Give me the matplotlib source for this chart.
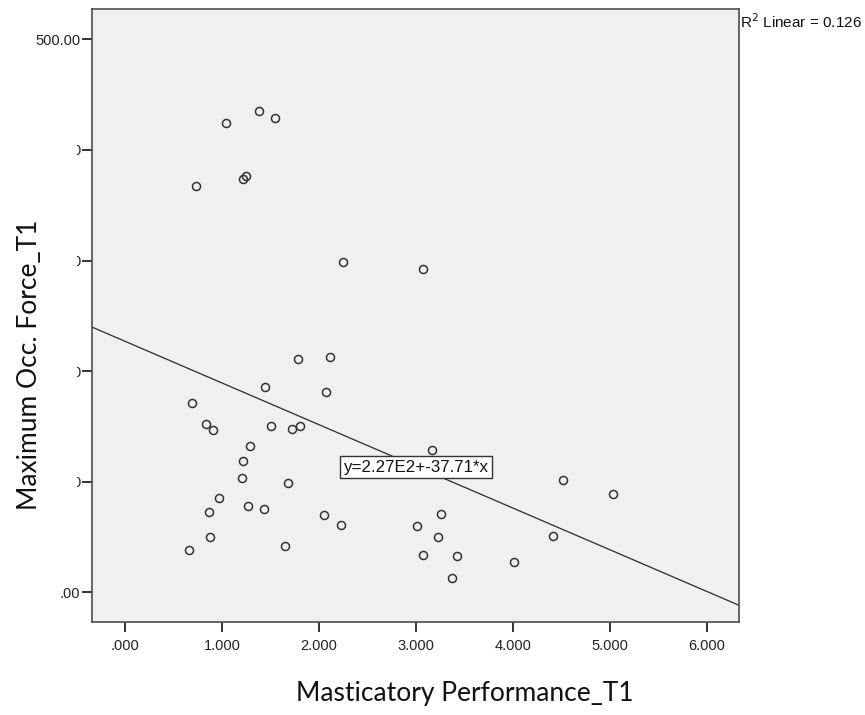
import numpy as np
import matplotlib
matplotlib.use("Agg")
import matplotlib.pyplot as plt
from matplotlib.transforms import Bbox, TransformedBbox

# ---- data ----
mastic_perf = [1.04, 1.38, 1.55, 0.73, 1.22, 1.25,
               2.25, 3.07,
               1.78, 2.11, 1.44, 2.07, 0.69, 0.84, 0.91, 1.51, 1.72, 1.80,
               1.29, 1.22, 1.21, 1.68, 0.97, 0.87, 1.27, 1.43, 2.05, 2.23,
               0.88, 0.66, 1.65,
               3.16, 4.52, 5.03, 3.26, 3.01, 3.23, 4.41, 3.07, 3.42, 4.01, 3.37]
max_force = [424, 435, 429, 367, 374, 376,
             299, 292,
             211, 213, 186, 181, 171, 152, 147, 150, 148, 150,
             132, 119, 103, 99, 85, 73, 78, 75, 70, 61,
             50, 38, 42,
             129, 102, 89, 71, 60, 50, 51, 34, 33, 27, 13]
intercept = 227.0
slope = -37.71
r2_text = "R$^2$ Linear = 0.126"
eq_text = "y=2.27E2+-37.71*x"
x_ticks = [0, 1, 2, 3, 4, 5, 6]
x_ticklabels = [".000", "1.000", "2.000", "3.000", "4.000", "5.000", "6.000"]
y_ticks = [0, 100, 200, 300, 400, 500]
# the middle labels are cut off in the reference: only a sliver of "0" shows
y_ticklabels = [".00", "0", "0", "0", "0", "500.00"]
x_label = "Masticatory Performance_T1"
y_label = "Maximum Occ. Force_T1"

W, H = 865, 715
fig = plt.figure(figsize=(W / 100, H / 100), dpi=100)
fig.patch.set_facecolor("white")
L, R, T, B = 92.3, 739.3, 8.7, 622.3
ax = fig.add_axes([L / W, 1 - B / H, (R - L) / W, (B - T) / H])
ax.set_facecolor("#F0F0F0")

xmin, xmax = -0.337, 6.333
ymin, ymax = -27.1, 527.7
ax.set_xlim(xmin, xmax)
ax.set_ylim(ymin, ymax)

for s in ax.spines.values():
    s.set_color("#4d4d4d")
    s.set_linewidth(1.2)

ax.plot(mastic_perf, max_force, linestyle="none", marker="o", markersize=5.8,
        markerfacecolor="none", markeredgecolor="#333333", markeredgewidth=1.1,
        zorder=3)

xl = np.array([xmin, xmax])
ax.plot(xl, intercept + slope * xl, color="#333333", linewidth=0.95, zorder=2)

tickfont = dict(family="Liberation Sans", size=10.5, color="#222222")
ax.set_xticks(x_ticks)
ax.set_xticklabels(x_ticklabels, **tickfont)
ax.set_yticks(y_ticks)
ax.set_yticklabels(y_ticklabels, **tickfont)
ax.tick_params(axis="both", direction="out", length=7.2, width=1.4,
               color="#333333", pad=1.5)
ax.tick_params(axis="x", pad=5)

clip = TransformedBbox(Bbox.from_extents(0.768, 0, 0.93, H / 100), fig.dpi_scale_trans)
for lab in ax.get_yticklabels()[1:5]:
    lab.set_clip_on(True)
    lab.set_clip_box(clip)

# equation box
ax.text(3.0, 113.3, eq_text, ha="center", va="center",
        family="Liberation Sans", size=12.2, color="#111111", zorder=4,
        bbox=dict(boxstyle="square,pad=0.2", facecolor="white",
                  edgecolor="#333333", linewidth=1.0))

fig.text(740 / W, 1 - 22 / H, r2_text, ha="left", va="center",
         family="Liberation Sans", size=11, color="#111111")

fig.text(634 / W, 1 - 694 / H, x_label, ha="right", va="center",
         family="Lato", size=19, color="#111111")
fig.text(30 / W, 1 - 365 / H, y_label, ha="center", va="center",
         rotation=90, family="Lato", size=19, color="#111111")

fig.savefig("out.png", dpi=100, facecolor="white")
